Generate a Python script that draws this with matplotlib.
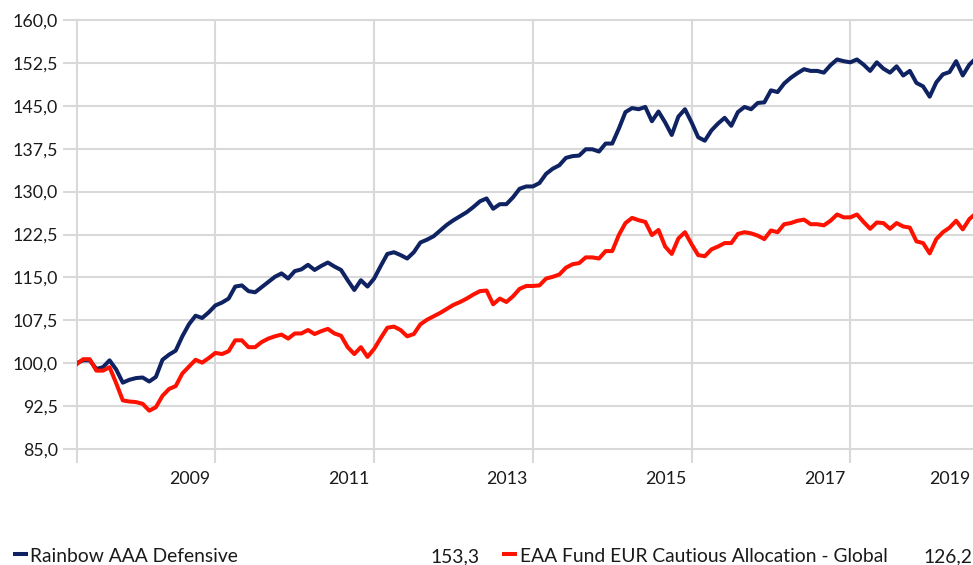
import matplotlib
matplotlib.use("Agg")
import matplotlib.pyplot as plt
from matplotlib.lines import Line2D
import numpy as np

plt.rcParams['font.family'] = ['Lato', 'DejaVu Sans']

# ---- data (monthly index values) ----
series_names = ["Rainbow AAA Defensive", "EAA Fund EUR Cautious Allocation - Global"]
final_values = ["153,3", "126,2"]

rainbow = [
    100.0, 100.5, 100.5, 99.0, 99.3, 100.5, 98.9, 96.6, 97.1, 97.4,
    97.5, 96.8, 97.6, 100.6, 101.5, 102.2, 104.7, 106.8, 108.3, 107.9,
    108.9, 110.1, 110.6, 111.3, 113.4, 113.6, 112.6, 112.4, 113.3, 114.2,
    115.1, 115.7, 114.8, 116.1, 116.4, 117.2, 116.3, 117.0, 117.6, 116.9,
    116.3, 114.5, 112.8, 114.5, 113.4, 114.8, 117.0, 119.1, 119.4, 118.9,
    118.3, 119.4, 121.1, 121.6, 122.2, 123.2, 124.2, 125.0, 125.7, 126.4,
    127.3, 128.3, 128.8, 127.0, 127.8, 127.8, 129.0, 130.5, 130.9, 130.9,
    131.5, 133.1, 134.0, 134.6, 135.9, 136.2, 136.3, 137.4, 137.4, 137.0,
    138.4, 138.4, 141.0, 143.9, 144.6, 144.4, 144.8, 142.3, 144.0, 142.1,
    139.9, 143.1, 144.4, 142.1, 139.5, 138.9, 140.7, 141.9, 142.9, 141.5,
    143.9, 144.8, 144.4, 145.5, 145.6, 147.7, 147.4, 148.9, 149.9, 150.7,
    151.4, 151.1, 151.1, 150.8, 152.1, 153.1, 152.8, 152.6, 153.1, 152.2,
    151.1, 152.6, 151.5, 150.8, 151.9, 150.3, 151.1, 149.0, 148.4, 146.6,
    149.1, 150.5, 150.9, 152.8, 150.3, 152.2, 153.3,
]

eaa = [
    99.8, 100.7, 100.7, 98.7, 98.7, 99.3, 96.5, 93.5, 93.3, 93.2,
    92.9, 91.7, 92.3, 94.3, 95.5, 96.0, 98.2, 99.4, 100.6, 100.1,
    100.9, 101.8, 101.6, 102.1, 104.0, 104.0, 102.8, 102.8, 103.7, 104.3,
    104.7, 105.0, 104.3, 105.2, 105.2, 105.8, 105.1, 105.6, 106.0, 105.2,
    104.8, 102.8, 101.6, 102.8, 101.1, 102.5, 104.4, 106.2, 106.4, 105.8,
    104.7, 105.1, 106.8, 107.6, 108.2, 108.8, 109.5, 110.2, 110.7, 111.3,
    112.0, 112.6, 112.7, 110.3, 111.3, 110.7, 111.7, 113.0, 113.5, 113.5,
    113.6, 114.8, 115.1, 115.5, 116.7, 117.3, 117.5, 118.5, 118.5, 118.3,
    119.6, 119.6, 122.4, 124.5, 125.4, 125.0, 124.7, 122.4, 123.3, 120.4,
    119.1, 121.8, 122.9, 120.8, 118.9, 118.7, 119.9, 120.4, 121.0, 121.0,
    122.6, 122.9, 122.7, 122.3, 121.7, 123.2, 122.9, 124.3, 124.5, 124.9,
    125.1, 124.3, 124.3, 124.1, 124.9, 126.0, 125.5, 125.5, 126.0, 124.7,
    123.5, 124.6, 124.5, 123.5, 124.5, 123.9, 123.7, 121.3, 121.0, 119.2,
    121.7, 122.9, 123.7, 124.9, 123.4, 125.2, 126.2,
]

year_labels = ["2009", "2011", "2013", "2015", "2017", "2019"]
year_label_pos = [17.1, 41.1, 65.1, 89.1, 113.1, 132.0]   # month index of label
grid_months = [0, 21, 45, 69, 93, 117]                    # month index of vertical gridlines

# ---- styling ----
navy = "#0f2262"
red = "#ff1100"
grid_c = "#d9d9d9"
txt_c = "#1a1a1a"
tick_fs = 12.8
legend_fs = 13.9

W, H = 973, 565
fig = plt.figure(figsize=(W / 100, H / 100), dpi=100)
left_px, right_px, top_px, bot_px = 76.5, 973, 20, 449
ax = fig.add_axes([left_px / W, (H - bot_px) / H, (right_px - left_px) / W, (bot_px - top_px) / H])

x = np.arange(len(rainbow))
ax.plot(x, rainbow, color=navy, lw=2.9, solid_joinstyle='round', zorder=3)
ax.plot(x, eaa, color=red, lw=2.9, solid_joinstyle='round', zorder=4)

ax.set_xlim(0, 135.55)
ax.set_ylim(85, 160)

yt = np.arange(85, 160.01, 7.5)
ax.set_yticks(yt)
ax.set_yticklabels([f"{v:.1f}".replace(".", ",") for v in yt])
ax.set_xticks(grid_months)
ax.set_xticklabels([])
ax.set_xticks(year_label_pos, minor=True)
ax.set_xticklabels(year_labels, minor=True)

for s in ax.spines.values():
    s.set_visible(False)

ax.grid(True, which='major', color=grid_c, lw=1.5)
for gl in ax.get_xgridlines() + ax.get_ygridlines():
    gl.set_clip_on(False)
ax.set_axisbelow(True)

ax.tick_params(axis='y', which='major', length=10.4, width=1.5, color=grid_c,
               labelsize=tick_fs, labelcolor=txt_c, pad=3)
ax.tick_params(axis='x', which='major', length=10.1, width=1.5, color=grid_c, pad=2)
ax.tick_params(axis='x', which='minor', length=0, labelsize=tick_fs, labelcolor=txt_c, pad=16)
for t in ax.yaxis.get_majorticklines() + ax.xaxis.get_majorticklines():
    t.set_clip_on(False)

# ---- legend row ----
def px2fig(px, py):
    return px / W, (H - py) / H

legend_items = [
    (12.5, 27.5, 29.5, 480, navy),
    (502, 517, 519.5, 972, red),
]
for (m0, m1, tx, vx, col), name, val in zip(legend_items, series_names, final_values):
    a = px2fig(m0, 553.5)
    b = px2fig(m1, 553.5)
    fig.add_artist(Line2D([a[0], b[0]], [a[1], b[1]], color=col, lw=2.9,
                          solid_capstyle='butt', transform=fig.transFigure))
    tx_, ty_ = px2fig(tx, 562.5)
    fig.text(tx_, ty_, name, fontsize=legend_fs, color=txt_c, ha='left', va='baseline')
    vx_, vy_ = px2fig(vx, 562.5)
    fig.text(vx_, vy_, val, fontsize=legend_fs, color=txt_c, ha='right', va='baseline')

fig.savefig("out.png", dpi=100)
